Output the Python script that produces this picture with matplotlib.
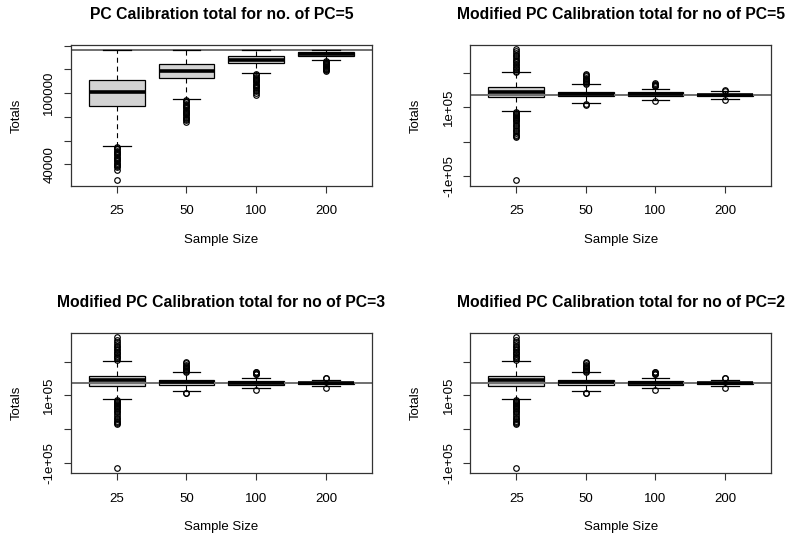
import matplotlib
matplotlib.use("Agg")
import matplotlib.pyplot as plt

plt.rcParams['font.family'] = ['Liberation Sans', 'DejaVu Sans']

sample_sizes = ["25", "50", "100", "200"]
true_total = 136000

# ---- Panel 1: PC Calibration, PC=5 ----
p1_med = [100670, 118930, 128200, 132980]
p1_q1 = [88880, 112750, 125110, 131570]
p1_q3 = [111070, 124550, 131290, 134380]
p1_wlo = [55400, 95060, 116690, 127640]
p1_whi = [136350, 136350, 136350, 136350]
p1_fliers = [
    [54500, 53500, 52500, 51500, 50500, 49500, 48500, 47500, 46500, 45500,
     44500, 43500, 42500, 41500, 40500, 39500, 38500, 37800, 35200, 26800],
    [94200, 93200, 92200, 91200, 90200, 89200, 88200, 87200, 86200, 85200,
     84200, 83200, 82200, 81200, 80200, 79200, 78400, 77200, 75900],
    [116000, 115000, 114000, 113000, 112000, 111000, 110000, 109000, 108000,
     107000, 106000, 105000, 104000, 103000, 101500, 100500, 98400],
    [127000, 126300, 125600, 124900, 124200, 123500, 122800, 122100, 121400,
     120700, 120000, 119300, 118650],
]

# ---- Panel 2: Modified PC Calibration, PC=5 ----
p2_med = [146000, 139500, 138100, 137200]
p2_q1 = [129300, 132500, 133400, 134300]
p2_q3 = [159800, 146500, 144000, 140200]
p2_wlo = [90300, 111700, 121700, 125500]
p2_whi = [202600, 168600, 154000, 146900]
p2_fliers = [
    [272000, 266000, 260000, 255000, 250000, 245000, 240000, 236000, 232000,
     228000, 224000, 220000, 216000, 212000, 208000, 205000,
     88000, 85000, 82000, 79000, 76000, 73000, 70000, 67000, 64000, 60000,
     55000, 50000, 45000, 40000, 35000, 30000, 25000, 20000, 16000, 13200,
     -112900],
    [198800, 195000, 191000, 187000, 184000, 181000, 178000, 175000, 172000,
     169500, 108900, 107500],
    [171500, 169000, 167000, 165000, 163000, 161600, 119600],
    [151900, 149500, 122500],
]

# ---- Panel 3: Modified PC Calibration, PC=3 ----
p3_med = [144900, 138500, 138100, 137000]
p3_q1 = [129300, 131200, 132300, 133100]
p3_q3 = [158700, 146900, 144000, 140500]
p3_wlo = [89100, 112600, 121400, 127300]
p3_whi = [202600, 168300, 152800, 146300]
p3_fliers = [
    [271800, 264000, 257200, 252000, 247000, 242000, 237000, 233000, 229000,
     225000, 221000, 217000, 213000, 209000, 205000,
     87000, 84000, 81000, 78000, 75000, 72000, 69000, 66000, 63000, 59000,
     55000, 50000, 45000, 40000, 35000, 30000, 26000, 22000, 19000, 15800,
     -112300],
    [198500, 195000, 191000, 187000, 184000, 181000, 178000, 175000, 172000,
     169300, 107700, 106700],
    [170400, 168000, 166000, 164000, 162500, 117600],
    [152800, 150700, 122900],
]

# ---- Panel 4: Modified PC Calibration, PC=2 ----
p4_med = [144900, 138500, 138100, 137000]
p4_q1 = [129300, 131200, 132300, 133100]
p4_q3 = [158700, 146900, 144000, 140500]
p4_wlo = [89100, 112600, 121400, 127300]
p4_whi = [202600, 168300, 152800, 146300]
p4_fliers = [
    [271800, 264000, 257200, 252000, 247000, 242000, 237000, 233000, 229000,
     225000, 221000, 217000, 213000, 209000, 205000,
     87000, 84000, 81000, 78000, 75000, 72000, 69000, 66000, 63000, 59000,
     55000, 50000, 45000, 40000, 35000, 30000, 26000, 22000, 19000, 15800,
     -112300],
    [198500, 195000, 191000, 187000, 184000, 181000, 178000, 175000, 172000,
     169300, 107700, 106700],
    [170400, 168000, 166000, 164000, 162500, 117600],
    [152800, 150700, 122900],
]

titles = [
    "PC Calibration total for no. of PC=5",
    "Modified PC Calibration total for no of PC=5",
    "Modified PC Calibration total for no of PC=3",
    "Modified PC Calibration total for no of PC=2",
]

p1_ticks = [40000, 60000, 80000, 100000, 120000, 140000]
p1_ticklabels = ["40000", "", "", "100000", "", ""]
mod_ticks = [-100000, 0, 100000, 200000]
mod_ticklabels = ["-1e+05", "", "1e+05", ""]

panels = [
    (p1_med, p1_q1, p1_q3, p1_wlo, p1_whi, p1_fliers, (21960, 140590), p1_ticks, p1_ticklabels),
    (p2_med, p2_q1, p2_q3, p2_wlo, p2_whi, p2_fliers, (-129000, 283000), mod_ticks, mod_ticklabels),
    (p3_med, p3_q1, p3_q3, p3_wlo, p3_whi, p3_fliers, (-129000, 283000), mod_ticks, mod_ticklabels),
    (p4_med, p4_q1, p4_q3, p4_wlo, p4_whi, p4_fliers, (-129000, 283000), mod_ticks, mod_ticklabels),
]

W, H = 790, 541
fig = plt.figure(figsize=(W / 100, H / 100), dpi=100)
# axes rectangles in pixels: left, top, right, bottom
rects = [
    (70.7, 45.0, 372.0, 185.7),
    (470.3, 45.0, 771.0, 185.7),
    (70.7, 333.3, 372.0, 473.3),
    (470.3, 333.3, 771.0, 473.3),
]

for (l, t, r, b), title, (med, q1, q3, wlo, whi, fl, ylim, yt, ytl) in zip(rects, titles, panels):
    ax = fig.add_axes([l / W, 1 - b / H, (r - l) / W, (b - t) / H])
    stats = []
    for i in range(len(sample_sizes)):
        stats.append(dict(med=med[i], q1=q1[i], q3=q3[i], whislo=wlo[i],
                          whishi=whi[i], fliers=fl[i], label=sample_sizes[i]))
    ax.bxp(stats, positions=[1, 2, 3, 4], widths=0.8, patch_artist=True,
           boxprops=dict(facecolor="#d3d3d3", edgecolor="black", linewidth=0.9),
           medianprops=dict(color="black", linewidth=2.6, solid_capstyle="butt", zorder=3),
           whiskerprops=dict(color="black", linewidth=0.8, linestyle=(0, (4.5, 3.5))),
           capprops=dict(color="black", linewidth=0.9, zorder=3),
           capwidths=0.4,
           flierprops=dict(marker="o", markerfacecolor="none", markeredgecolor="black",
                           markersize=4.0, markeredgewidth=0.85, linestyle="none"))
    ax.axhline(true_total, color="#707070", linewidth=1.4, zorder=2.5)
    ax.set_xlim(0.34, 4.66)
    ax.set_ylim(*ylim)
    ax.set_yticks(yt)
    ax.set_yticklabels(ytl, rotation=90, va="center")
    ax.set_xticks([1, 2, 3, 4])
    ax.set_xticklabels(sample_sizes)
    ax.tick_params(axis="both", length=5, width=0.8, labelsize=9.5, color="#333333")
    ax.tick_params(axis="x", pad=9)
    ax.tick_params(axis="y", pad=6)
    for s in ax.spines.values():
        s.set_linewidth(0.9)
        s.set_color("#333333")
    ax.set_xlabel("Sample Size", fontsize=9.5, labelpad=12)
    ax.set_ylabel("Totals", fontsize=9.5, labelpad=15)
    ax.set_title(title, fontsize=11.3, fontweight="bold", pad=19)

fig.savefig("out.png", dpi=100)
